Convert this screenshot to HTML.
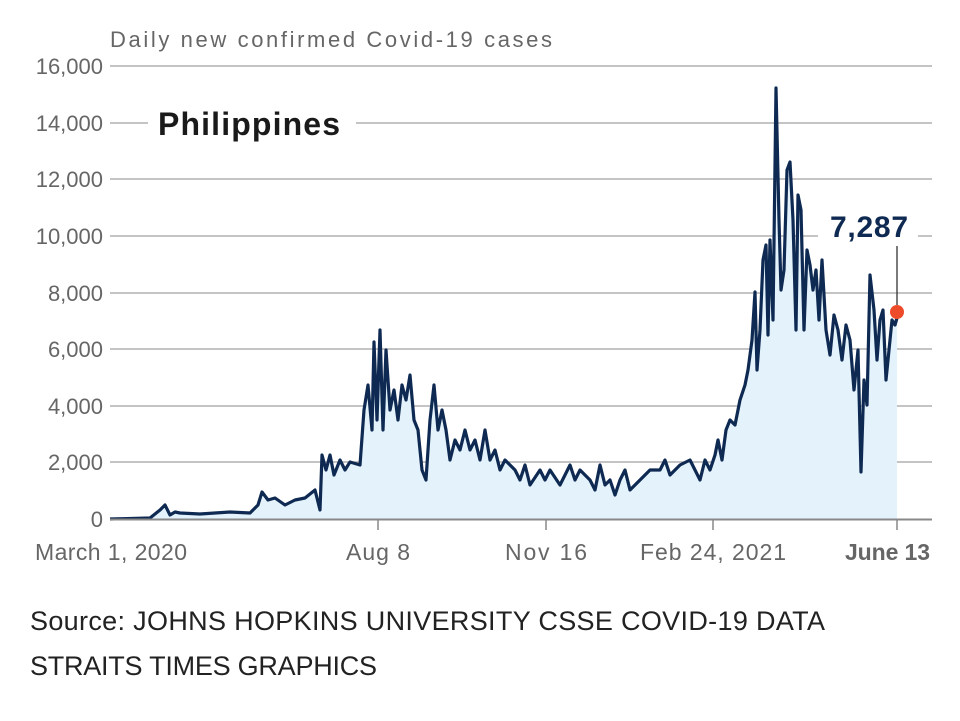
<!DOCTYPE html>
<html><head><meta charset="utf-8"><style>
body{margin:0;background:#fff;width:960px;height:716px;overflow:hidden;font-family:"Liberation Sans",sans-serif}
</style></head><body>
<svg width="960" height="716" viewBox="0 0 960 716" xmlns="http://www.w3.org/2000/svg" font-family="Liberation Sans, sans-serif">
<g stroke="#a0a0a0" stroke-width="1.3">
<line x1="110" x2="932" y1="66" y2="66"/><line x1="110" x2="932" y1="123" y2="123"/>
<line x1="110" x2="932" y1="179" y2="179"/><line x1="110" x2="932" y1="236" y2="236"/>
<line x1="110" x2="932" y1="293" y2="293"/><line x1="110" x2="932" y1="349" y2="349"/>
<line x1="110" x2="932" y1="406" y2="406"/><line x1="110" x2="932" y1="462" y2="462"/>
</g>
<g font-size="22" fill="#666" text-anchor="end">
<text x="103" y="74">16,000</text><text x="103" y="131">14,000</text><text x="103" y="187">12,000</text>
<text x="103" y="244">10,000</text><text x="103" y="301">8,000</text><text x="103" y="357">6,000</text>
<text x="103" y="414">4,000</text><text x="103" y="470">2,000</text><text x="103" y="527">0</text>
</g>
<text x="110" y="47" font-size="22" fill="#666" textLength="442">Daily new confirmed Covid-19 cases</text>
<rect x="148" y="105" width="208" height="40" fill="#fff"/>
<text x="158" y="135" font-size="32" font-weight="bold" fill="#1a1a1a" textLength="182">Philippines</text>
<rect x="818" y="210" width="100" height="40" fill="#fff"/>
<polygon fill="#e3f2fb" points="110,519 150,518 160,510 165,505 170,515 175,512 180,513 200,514 230,512 250,513 258,505 262,492 268,500 275,498 285,505 295,500 305,498 315,490 320,510 322,455 326,470 330,455 334,475 340,460 345,470 350,462 360,465 364,410 368,385 372,430 374,342 377,420 380,330 383,430 386,350 390,410 394,390 398,420 402,385 406,400 410,375 414,420 418,430 422,470 426,480 430,420 434,385 438,430 442,410 446,430 450,460 455,440 460,450 465,430 470,450 475,440 480,460 485,430 490,460 495,450 500,470 505,460 510,465 515,470 520,480 525,465 530,485 540,470 545,480 550,470 560,485 570,465 575,480 580,470 590,480 595,490 600,465 605,485 610,480 615,495 620,480 625,470 630,490 640,480 650,470 660,470 665,460 670,475 680,465 690,460 700,480 705,460 710,470 715,455 718,440 722,460 726,430 730,420 735,425 740,400 745,385 748,370 752,340 755,292 757,370 760,330 763,260 766,245 768,335 770,240 773,320 776,88 779,220 781,290 784,270 787,170 790,162 793,220 796,330 798,195 801,210 804,330 807,250 810,265 813,290 816,270 819,320 822,260 826,330 830,355 834,315 838,330 842,360 846,325 850,340 854,390 858,350 861,472 864,380 867,405 870,275 874,310 877,360 880,320 883,310 886,380 889,350 892,320 895,325 897,318 897,519"/>
<polyline fill="none" stroke="#0f2a52" stroke-width="3.2" stroke-linejoin="round" points="110,519 150,518 160,510 165,505 170,515 175,512 180,513 200,514 230,512 250,513 258,505 262,492 268,500 275,498 285,505 295,500 305,498 315,490 320,510 322,455 326,470 330,455 334,475 340,460 345,470 350,462 360,465 364,410 368,385 372,430 374,342 377,420 380,330 383,430 386,350 390,410 394,390 398,420 402,385 406,400 410,375 414,420 418,430 422,470 426,480 430,420 434,385 438,430 442,410 446,430 450,460 455,440 460,450 465,430 470,450 475,440 480,460 485,430 490,460 495,450 500,470 505,460 510,465 515,470 520,480 525,465 530,485 540,470 545,480 550,470 560,485 570,465 575,480 580,470 590,480 595,490 600,465 605,485 610,480 615,495 620,480 625,470 630,490 640,480 650,470 660,470 665,460 670,475 680,465 690,460 700,480 705,460 710,470 715,455 718,440 722,460 726,430 730,420 735,425 740,400 745,385 748,370 752,340 755,292 757,370 760,330 763,260 766,245 768,335 770,240 773,320 776,88 779,220 781,290 784,270 787,170 790,162 793,220 796,330 798,195 801,210 804,330 807,250 810,265 813,290 816,270 819,320 822,260 826,330 830,355 834,315 838,330 842,360 846,325 850,340 854,390 858,350 861,472 864,380 867,405 870,275 874,310 877,360 880,320 883,310 886,380 889,350 892,320 895,325 897,318"/>
<line x1="110" x2="932" y1="519.5" y2="519.5" stroke="#888" stroke-width="2"/>
<g stroke="#888" stroke-width="1.5">
<line x1="378" x2="378" y1="520" y2="530"/><line x1="546" x2="546" y1="520" y2="530"/>
<line x1="713" x2="713" y1="520" y2="530"/><line x1="897" x2="897" y1="520" y2="530"/>
</g>
<line x1="897" x2="897" y1="246" y2="305" stroke="#333" stroke-width="1.3"/>
<circle cx="897" cy="312" r="7" fill="#ee4b2b"/>
<text x="830" y="237" font-size="30" font-weight="bold" fill="#0f2a52" textLength="78">7,287</text>
<g font-size="23" fill="#666">
<text x="35" y="560" textLength="152">March 1, 2020</text><text x="346" y="560" textLength="64">Aug 8</text>
<text x="505" y="560" textLength="82">Nov 16</text><text x="640" y="560" textLength="146">Feb 24, 2021</text>
<text x="845" y="560" font-weight="bold" textLength="85">June 13</text>
</g>
<text x="30" y="630" font-size="27" fill="#222" textLength="795">Source: JOHNS HOPKINS UNIVERSITY CSSE COVID-19 DATA</text>
<text x="30" y="675" font-size="27" fill="#222" textLength="347">STRAITS TIMES GRAPHICS</text>
</svg>
</body></html>
